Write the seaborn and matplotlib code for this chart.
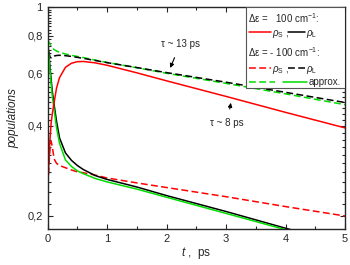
import numpy as np
import pandas as pd
import matplotlib
matplotlib.use("Agg")
import matplotlib.pyplot as plt
import seaborn as sns
from matplotlib.lines import Line2D
from matplotlib.patches import Rectangle

# time grid (ps) and populations
t = [0, 0.02, 0.04, 0.06, 0.08, 0.11, 0.15, 0.2, 0.3, 0.4, 0.5, 0.6, 0.8, 1, 1.5, 2, 3, 4, 5]

# delta eps = +100 cm-1
rho_s_pos = [0.235, 0.30, 0.36, 0.41, 0.44, 0.48, 0.535, 0.58, 0.628, 0.648, 0.656, 0.657,
             0.65, 0.638, 0.602, 0.566, 0.502, 0.444, 0.394]
rho_l_pos = [0.765, 0.70, 0.63, 0.57, 0.52, 0.47, 0.415, 0.365, 0.325, 0.307, 0.295, 0.286,
             0.273, 0.265, 0.25, 0.234, 0.207, 0.182, 0.161]
approx_pos = [0.77, 0.69, 0.61, 0.55, 0.50, 0.452, 0.395, 0.35, 0.308, 0.293, 0.283, 0.277,
              0.267, 0.26, 0.246, 0.231, 0.204, 0.18, 0.159]

# delta eps = -100 cm-1
rho_s_neg = [0.235, 0.29, 0.335, 0.355, 0.34, 0.31, 0.30, 0.295, 0.29, 0.285, 0.281, 0.279,
             0.274, 0.268, 0.258, 0.249, 0.232, 0.215, 0.2]
rho_l_neg = [0.765, 0.71, 0.68, 0.675, 0.68, 0.685, 0.688, 0.689, 0.687, 0.683, 0.678, 0.673,
             0.662, 0.651, 0.627, 0.603, 0.56, 0.518, 0.479]
approx_neg = [0.775, 0.765, 0.752, 0.74, 0.73, 0.72, 0.712, 0.705, 0.696, 0.689, 0.683, 0.677,
              0.664, 0.652, 0.626, 0.600, 0.555, 0.512, 0.471]

y_ticks = [0.2, 0.4, 0.6, 0.8, 1.0]
y_ticklabels = ["0,2", "0,4", "0,6", "0,8", "1"]

sns.set_style("ticks")
plt.rcParams['font.family'] = ['Liberation Sans', 'DejaVu Sans']
plt.rcParams['mathtext.fontset'] = 'custom'
plt.rcParams['mathtext.rm'] = 'Liberation Sans'
plt.rcParams['mathtext.it'] = 'Liberation Sans:italic'

fig = plt.figure(figsize=(3.5, 2.65), dpi=100)
ax = fig.add_axes([0.136, 0.136, 0.85, 0.838])

dash = (0, (4.5, 2.2))
lw = 1.1

sns.lineplot(x=t, y=approx_neg, color='#00dd00', lw=lw, ax=ax, linestyle=dash)
sns.lineplot(x=t, y=rho_l_neg, color='black', lw=lw, ax=ax, linestyle=dash)
sns.lineplot(x=t, y=rho_s_neg, color='red', lw=lw, ax=ax, linestyle=dash)
sns.lineplot(x=t, y=rho_l_pos, color='black', lw=lw, ax=ax)
sns.lineplot(x=t, y=approx_pos, color='#00dd00', lw=lw, ax=ax)
sns.lineplot(x=t, y=rho_s_pos, color='red', lw=lw, ax=ax)

ax.set_yscale('log')
ax.set_xlim(0, 5)
ax.set_ylim(0.181, 1.0)
ax.yaxis.set_major_locator(matplotlib.ticker.FixedLocator(y_ticks))
ax.yaxis.set_major_formatter(matplotlib.ticker.FixedFormatter(y_ticklabels))
ax.yaxis.set_minor_locator(matplotlib.ticker.FixedLocator(np.arange(0.18, 1.0, 0.02)))
ax.yaxis.set_minor_formatter(matplotlib.ticker.NullFormatter())
ax.set_xticks([0, 1, 2, 3, 4, 5])
ax.xaxis.set_minor_locator(matplotlib.ticker.MultipleLocator(0.5))
ax.tick_params(which='both', direction='in', top=True, right=True, labelsize=8, width=0.8)
ax.tick_params(which='major', length=3.5)
ax.tick_params(which='minor', length=2)
for s in ax.spines.values():
    s.set_linewidth(1.0)

ax.set_xlabel(r"$t$ ,  ps", fontsize=8.5, labelpad=1)
ax.set_ylabel("populations", fontsize=8.5, style='italic', labelpad=6)

# lifetime annotations
ax.annotate(r"τ ~ 13 ps", xy=(2.06, 0.625), xytext=(2.23, 0.75), fontsize=7,
            ha='center', va='center',
            arrowprops=dict(arrowstyle='-|>', color='black', lw=0.8, mutation_scale=6,
                            shrinkA=4, shrinkB=0))
ax.annotate(r"τ ~ 8 ps", xy=(3.08, 0.478), xytext=(3.02, 0.41), fontsize=7,
            ha='center', va='center',
            arrowprops=dict(arrowstyle='-|>', color='black', lw=0.8, mutation_scale=6,
                            shrinkA=4, shrinkB=0))

# hand-made legend box
tr = ax.transAxes
ax.add_patch(Rectangle((0.666, 0.635), 0.334, 0.365, transform=tr, facecolor='white',
                       edgecolor='#555555', lw=0.8, zorder=5))
fs = 7
ax.text(0.672, 0.95, "Δε =   100 cm$^{-1}$:", transform=tr, fontsize=fs, va='center', zorder=6)
ax.text(0.672, 0.797, "Δε = - 100 cm$^{-1}$:", transform=tr, fontsize=fs, va='center', zorder=6)


def sample(x0, x1, y, color, ls):
    ax.add_line(Line2D([x0, x1], [y, y], transform=tr, color=color, lw=lw, linestyle=ls, zorder=6))


for yy, ls in [(0.887, '-'), (0.725, dash)]:
    sample(0.678, 0.752, yy, 'red', ls)
    ax.text(0.755, yy - 0.01, r"$\rho_\mathrm{S}$ ,", transform=tr, fontsize=fs, va='center', zorder=6)
    sample(0.808, 0.866, yy, 'black', ls)
    ax.text(0.870, yy - 0.01, r"$\rho_\mathrm{L}$", transform=tr, fontsize=fs, va='center', zorder=6)
sample(0.678, 0.764, 0.662, '#00dd00', dash)
sample(0.790, 0.872, 0.662, '#00dd00', '-')
ax.text(0.876, 0.662, "approx.", transform=tr, fontsize=fs, va='center', zorder=6)

fig.savefig("out.png", dpi=100)
